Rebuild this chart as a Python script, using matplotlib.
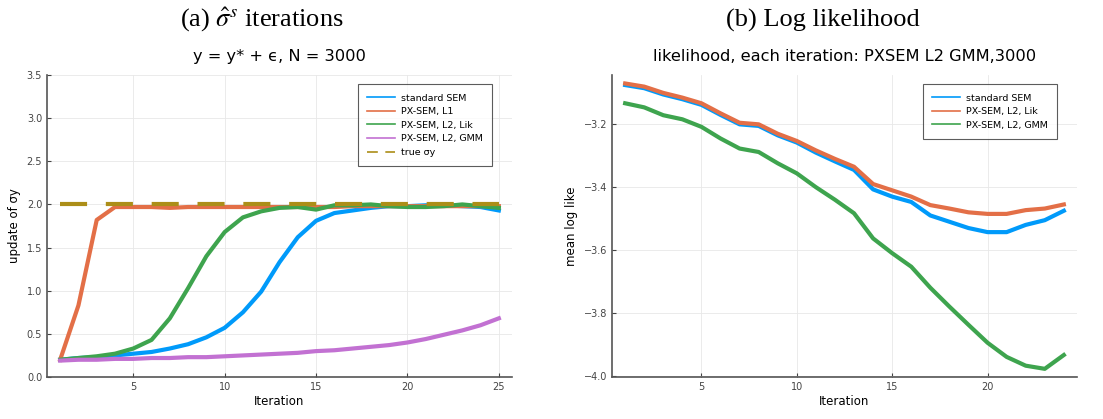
import matplotlib
matplotlib.use("Agg")
import matplotlib.pyplot as plt
import numpy as np

# ---- data ----
iters_a = np.arange(1, 26)
standard_sem = [0.20, 0.22, 0.23, 0.25, 0.27, 0.29, 0.33, 0.38, 0.46, 0.57,
                0.75, 0.99, 1.33, 1.62, 1.81, 1.90, 1.93, 1.96, 1.98, 1.98,
                1.99, 1.99, 1.98, 1.97, 1.93]
px_l1 = [0.20, 0.83, 1.82, 1.97, 1.97, 1.97, 1.96, 1.97, 1.97, 1.97,
         1.97, 1.97, 1.97, 1.97, 1.97, 1.97, 1.98, 1.98, 1.98, 1.98,
         1.98, 1.98, 1.98, 1.98, 1.98]
px_l2_lik = [0.20, 0.22, 0.24, 0.27, 0.33, 0.43, 0.68, 1.03, 1.40, 1.68,
             1.85, 1.92, 1.96, 1.97, 1.94, 1.99, 1.99, 2.00, 1.98, 1.97,
             1.97, 1.98, 2.00, 1.98, 1.96]
px_l2_gmm = [0.19, 0.20, 0.20, 0.21, 0.21, 0.22, 0.22, 0.23, 0.23, 0.24,
             0.25, 0.26, 0.27, 0.28, 0.30, 0.31, 0.33, 0.35, 0.37, 0.40,
             0.44, 0.49, 0.54, 0.60, 0.68]
true_sigma = 2.0

iters_b = np.arange(1, 25)
ll_standard = [-3.075, -3.085, -3.105, -3.12, -3.138, -3.17, -3.2, -3.205, -3.235, -3.258,
               -3.29, -3.318, -3.345, -3.407, -3.43, -3.447, -3.49, -3.51, -3.53, -3.543,
               -3.543, -3.52, -3.505, -3.475]
ll_l2_lik = [-3.07, -3.08, -3.10, -3.115, -3.133, -3.165, -3.195, -3.20, -3.23, -3.253,
             -3.283, -3.31, -3.335, -3.39, -3.41, -3.43, -3.457, -3.468, -3.48, -3.485,
             -3.485, -3.473, -3.468, -3.455]
ll_l2_gmm = [-3.133, -3.146, -3.171, -3.184, -3.208, -3.245, -3.277, -3.288, -3.324, -3.356,
             -3.40, -3.44, -3.483, -3.563, -3.61, -3.653, -3.72, -3.78, -3.838, -3.895,
             -3.94, -3.968, -3.978, -3.934]

BLUE = "#009afa"
ORANGE = "#e36f47"
GREEN = "#3ea44e"
PURPLE = "#c271d2"
OLIVE = "#ac8e18"

plt.rcParams["font.family"] = ["DejaVu Sans"]
plt.rcParams["mathtext.fontset"] = "stix"

W, H = 1103, 419
fig = plt.figure(figsize=(W / 100, H / 100), dpi=100)


def make_axes(x0, x1, y0, y1):
    return fig.add_axes([x0 / W, 1 - y1 / H, (x1 - x0) / W, (y1 - y0) / H])


def style(ax):
    for s in ("top", "right"):
        ax.spines[s].set_visible(False)
    for s in ("left", "bottom"):
        ax.spines[s].set_color("#555555")
        ax.spines[s].set_linewidth(1.2)
    ax.grid(True, color="#e8e8e8", linewidth=0.6)
    ax.set_axisbelow(True)
    ax.tick_params(direction="in", length=3, labelsize=7, colors="#444444")


def add_legend(ax):
    leg = ax.legend(loc="upper right", bbox_to_anchor=(0.968, 0.985), fontsize=6.8,
                    frameon=True, fancybox=False, handlelength=3.0, borderpad=1.0,
                    labelspacing=0.48, handletextpad=0.6)
    leg.get_frame().set_edgecolor("#333333")
    leg.get_frame().set_linewidth(0.8)
    for h in leg.get_lines():
        h.set_linewidth(1.2)
    return leg


LW = 3.0

# ---- (a) ----
ax1 = make_axes(47, 512, 75, 377)
style(ax1)
ax1.plot(iters_a, standard_sem, color=BLUE, lw=LW, label="standard SEM")
ax1.plot(iters_a, px_l1, color=ORANGE, lw=LW, label="PX-SEM, L1")
ax1.plot(iters_a, px_l2_lik, color=GREEN, lw=LW, label="PX-SEM, L2, Lik")
ax1.plot(iters_a, px_l2_gmm, color=PURPLE, lw=LW, label="PX-SEM, L2, GMM")
ax1.plot([iters_a[0], iters_a[-1]], [true_sigma, true_sigma], color=OLIVE, lw=LW,
         dashes=(6.5, 4.5), label="true σy")
ax1.set_xlim(0.28, 25.72)
ax1.set_ylim(0, 3.5)
ax1.set_xticks([5, 10, 15, 20, 25])
ax1.set_yticks(np.arange(0, 3.51, 0.5))
ax1.set_xlabel("Iteration", fontsize=8.5, labelpad=2)
ax1.set_ylabel("update of σy", fontsize=8.5, labelpad=4)
ax1.set_title("y = y* + ϵ, N = 3000", fontsize=11.7, pad=10)
add_legend(ax1)

# ---- (b) ----
ax2 = make_axes(612, 1077, 75, 377)
style(ax2)
ax2.plot(iters_b, ll_standard, color=BLUE, lw=LW, label="standard SEM")
ax2.plot(iters_b, ll_l2_lik, color=ORANGE, lw=LW, label="PX-SEM, L2, Lik")
ax2.plot(iters_b, ll_l2_gmm, color=GREEN, lw=LW, label="PX-SEM, L2, GMM")
ax2.set_xlim(0.31, 24.69)
ax2.set_ylim(-4.004, -3.043)
ax2.set_xticks([5, 10, 15, 20])
ax2.set_yticks([-4.0, -3.8, -3.6, -3.4, -3.2])
ax2.set_xlabel("Iteration", fontsize=8.5, labelpad=2)
ax2.set_ylabel("mean log like", fontsize=8.5, labelpad=4)
ax2.set_title("likelihood, each iteration: PXSEM L2 GMM,3000", fontsize=11.7, pad=10)
add_legend(ax2)

# ---- panel captions ----
fig.text(262 / W, 1 - 20 / H, r"(a) $\hat{\sigma}^s$ iterations", ha="center", va="center",
         fontsize=19, family="Liberation Serif")
fig.text(823 / W, 1 - 20 / H, "(b) Log likelihood", ha="center", va="center",
         fontsize=19, family="Liberation Serif")

fig.savefig("out.png", dpi=100)
